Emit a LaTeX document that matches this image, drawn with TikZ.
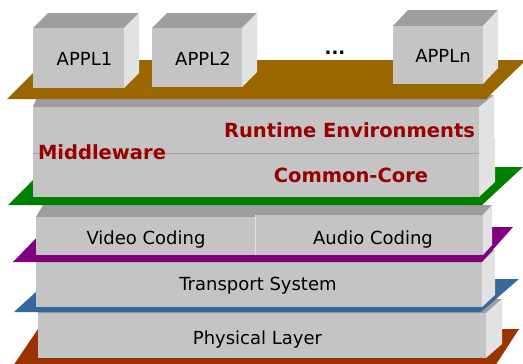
\documentclass[tikz,border=0pt]{standalone}
\usepackage{fontspec}
\setmainfont{DejaVu Sans}
\definecolor{boxfront}{HTML}{C4C4C4}
\definecolor{boxtop}{HTML}{9E9E9E}
\definecolor{boxside}{HTML}{E2E2E2}
\definecolor{pbrown}{HTML}{996600}
\definecolor{pgreen}{HTML}{008000}
\definecolor{ppurple}{HTML}{800080}
\definecolor{pblue}{HTML}{35689C}
\definecolor{porange}{HTML}{993300}
\definecolor{redtxt}{HTML}{990000}
\newcommand\mycuboid[7]{% x0,y0,x1,y1,dxLeft,dxRight,dy
  \fill[boxtop] (#1,#2) -- ({#1+#5},{#2-#7}) -- ({#3+#6},{#2-#7}) -- (#3,#2) -- cycle;
  \fill[boxside] (#3,#2) -- ({#3+#6},{#2-#7}) -- ({#3+#6},{#4-#7}) -- (#3,#4) -- cycle;
  \fill[boxfront] (#1,#2) rectangle (#3,#4);
}
\tikzset{
  lbl/.style={inner sep=0pt, anchor=base, font=\fontsize{18}{20}\selectfont, text=black},
  blbl/.style={inner sep=0pt, anchor=base, font=\fontsize{19.5}{22}\selectfont\bfseries, text=redtxt},
}
\begin{document}
\begin{tikzpicture}[x=1pt,y=-1pt]
\useasboundingbox (0,0) rectangle (523,364);
% orange plane + physical layer
\fill[porange] (13,366) -- (38,329) -- (519,329) -- (495,366) -- cycle;
\mycuboid{38}{313}{486}{358}{6}{16}{14}
% blue plane + transport
\fill[pblue] (14,312) -- (50,279) -- (519,279) -- (481,312) -- cycle;
\mycuboid{36}{262}{482}{307}{6}{13}{12}
% purple plane + coding boxes
\fill[ppurple] (13,262) -- (47,227) -- (513,227) -- (482,262) -- cycle;
\mycuboid{36}{217}{255}{255}{7}{9}{12}
\mycuboid{255}{215}{483}{255}{7}{9}{10}
\draw[boxside, line width=0.8pt] (255,215) -- (255,255);
% green plane + middleware
\fill[pgreen] (8,205) -- (46,167) -- (523,167) -- (482,205) -- cycle;
\mycuboid{33}{153}{479}{197}{5}{16}{15}
\mycuboid{33}{107}{479}{153}{5}{15}{12}
\draw[boxtop!80!boxfront, line width=1pt] (33,153) -- (479,153);
% brown plane + applications
\fill[pbrown] (7,99) -- (46,60) -- (526,60) -- (486,99) -- cycle;
\mycuboid{33}{28}{124}{88}{15}{15}{15}
\mycuboid{152}{28}{242}{87}{15}{15}{15}
\mycuboid{393}{26}{483}{84}{15}{15}{16}
% labels
\node[lbl] (appl1) at (84.5,65) {APPL1};
\node[lbl] (appl2) at (203,65) {APPL2};
\node[lbl] (appln) at (443,63) {APPLn};
\node[lbl, font=\fontsize{18}{20}\selectfont\bfseries] (dots) at (335,54) {...};
\node[blbl] (rte) at (349.5,137) {Runtime Environments};
\node[blbl] (mw) at (102,159) {Middleware};
\node[blbl] (cc) at (351,182) {Common-Core};
\node[lbl] (video) at (146,244) {Video Coding};
\node[lbl] (audio) at (373,244) {Audio Coding};
\node[lbl] (transport) at (258,290) {Transport System};
\node[lbl] (physical) at (257.5,344) {Physical Layer};
\end{tikzpicture}
\end{document}
